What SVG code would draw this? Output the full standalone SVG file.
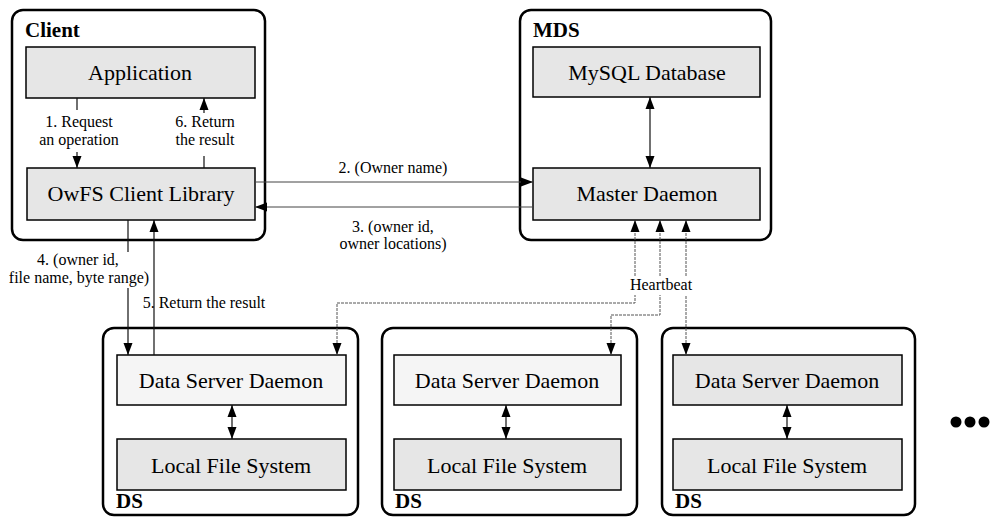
<svg xmlns="http://www.w3.org/2000/svg" width="990" height="517" viewBox="0 0 990 517" font-family="'Liberation Serif', 'Times New Roman', Times, 'DejaVu Serif', serif">
<style>
.outer{fill:#fff;stroke:#000;stroke-width:2.5}
.box{fill:#e6e6e6;stroke:#000;stroke-width:1.5}
.boxw{fill:#f5f5f5;stroke:#000;stroke-width:1.5}
text{font-family:'Liberation Serif','Times New Roman',Times,'DejaVu Serif',serif;fill:#000}
.nt{font-size:22px;text-anchor:middle}
.hd{font-size:21px;font-weight:bold}
.lb{font-size:16px;text-anchor:middle}
.c{fill:none;stroke:#111;stroke-width:1.2}
.cg{fill:none;stroke:#444;stroke-width:1}
.hb{fill:none;stroke:#555;stroke-width:1;stroke-dasharray:3 1}
</style>
<defs>
<marker id="ah" markerUnits="userSpaceOnUse" markerWidth="12" markerHeight="12" viewBox="0 0 12 12" refX="12" refY="6" orient="auto-start-reverse">
<path d="M0,1.5 L12,6 L0,10.5 Z" fill="#000"/>
</marker>
</defs>

<g id="client">
<rect class="outer" x="12" y="10" width="253" height="230" rx="11"/>
<text class="hd" x="25" y="37">Client</text>
</g>
<g id="application">
<rect class="box" x="26" y="47" width="229" height="51"/>
<text class="nt" x="140" y="80">Application</text>
</g>
<g id="owfs-client-library">
<rect class="box" x="27" y="168" width="228" height="52"/>
<text class="nt" x="141" y="201">OwFS Client Library</text>
</g>

<g id="mds">
<rect class="outer" x="520" y="10" width="251" height="230" rx="11"/>
<text class="hd" x="533" y="37">MDS</text>
</g>
<g id="mysql-database">
<rect class="box" x="533" y="47" width="227" height="50"/>
<text class="nt" x="647" y="80">MySQL Database</text>
</g>
<g id="master-daemon">
<rect class="box" x="533" y="168" width="227" height="52"/>
<text class="nt" x="647" y="201">Master Daemon</text>
</g>

<g id="ds1">
<rect class="outer" x="103" y="328" width="255" height="187" rx="11"/>
<text class="hd" x="116" y="508">DS</text>
</g>
<g id="ds1-daemon">
<rect class="boxw" x="117" y="355" width="229" height="50"/>
<text class="nt" x="231" y="388">Data Server Daemon</text>
</g>
<g id="ds1-lfs">
<rect class="box" x="117" y="439" width="229" height="51"/>
<text class="nt" x="231" y="473">Local File System</text>
</g>

<g id="ds2">
<rect class="outer" x="382" y="328" width="255" height="187" rx="11"/>
<text class="hd" x="395" y="508">DS</text>
</g>
<g id="ds2-daemon">
<rect class="boxw" x="394" y="355" width="227" height="50"/>
<text class="nt" x="507" y="388">Data Server Daemon</text>
</g>
<g id="ds2-lfs">
<rect class="box" x="394" y="439" width="227" height="51"/>
<text class="nt" x="507" y="473">Local File System</text>
</g>

<g id="ds3">
<rect class="outer" x="662" y="328" width="253" height="187" rx="11"/>
<text class="hd" x="675" y="508">DS</text>
</g>
<g id="ds3-daemon">
<rect class="box" x="673" y="355" width="229" height="50"/>
<text class="nt" x="787" y="388">Data Server Daemon</text>
</g>
<g id="ds3-lfs">
<rect class="box" x="673" y="439" width="229" height="51"/>
<text class="nt" x="787" y="473">Local File System</text>
</g>

<g id="more">
<circle cx="956" cy="422" r="5.5" fill="#000"/>
<circle cx="970" cy="422" r="5.5" fill="#000"/>
<circle cx="984" cy="422" r="5.5" fill="#000"/>
</g>

<g id="connectors">
<path class="c" d="M77,98 V110 M77,152 V168" marker-end="url(#ah)"/>
<text class="lb" x="79" y="127">1. Request</text>
<text class="lb" x="79" y="145">an operation</text>
<path class="c" d="M204,168 V156 M204,113 V98" marker-end="url(#ah)"/>
<text class="lb" x="205" y="127">6. Return</text>
<text class="lb" x="205" y="145">the result</text>

<path class="cg" d="M255,182 H533" marker-end="url(#ah)"/>
<text class="lb" x="393" y="173">2. (Owner name)</text>
<path class="cg" d="M533,207 H255" marker-end="url(#ah)"/>
<text class="lb" x="393" y="232">3. (owner id,</text>
<text class="lb" x="393" y="249">owner locations)</text>

<path class="c" d="M650,97 V168" marker-start="url(#ah)" marker-end="url(#ah)"/>

<path class="c" d="M128,220 V252 M128,288 V355" marker-end="url(#ah)"/>
<text class="lb" x="78" y="265">4. (owner id,</text>
<text class="lb" x="79" y="283">file name, byte range)</text>
<path class="c" d="M154,355 V220" marker-end="url(#ah)"/>
<text class="lb" x="204" y="308">5. Return the result</text>

<path class="hb" d="M337,355 V303 H635 V295 M635,276 V220" marker-start="url(#ah)" marker-end="url(#ah)"/>
<path class="hb" d="M611,355 V315 H660 V295 M660,276 V220" marker-start="url(#ah)" marker-end="url(#ah)"/>
<path class="hb" d="M686,355 V295 M686,276 V220" marker-start="url(#ah)" marker-end="url(#ah)"/>
<text class="lb" x="661" y="290">Heartbeat</text>

<path class="c" d="M232,405 V439" marker-start="url(#ah)" marker-end="url(#ah)"/>
<path class="c" d="M506,405 V439" marker-start="url(#ah)" marker-end="url(#ah)"/>
<path class="c" d="M787,405 V439" marker-start="url(#ah)" marker-end="url(#ah)"/>
</g>
</svg>
